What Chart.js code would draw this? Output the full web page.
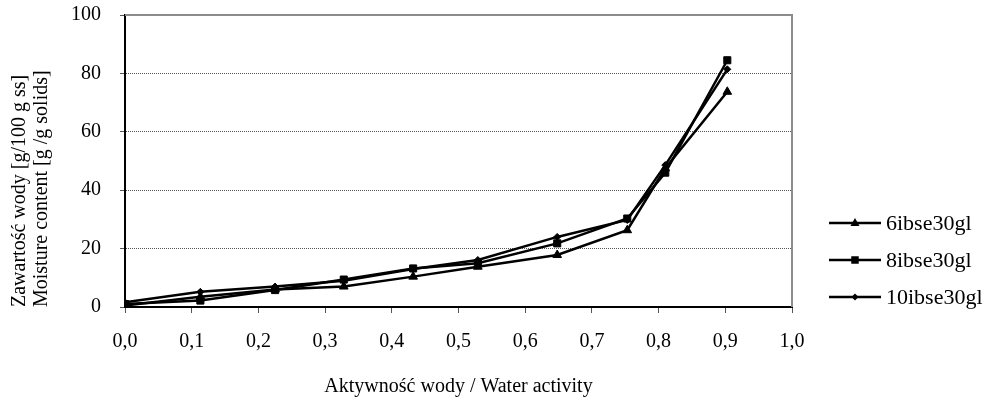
<!DOCTYPE html>
<html>
<head>
	<meta charset="UTF-8">
	<title>izotermy sorpcji</title>
	<script src="https://cdn.jsdelivr.net/npm/chart.js"></script>
	<style>
	body{margin:0; background:#fff;}
	#box{width:984px; height:406px;}
	</style>
</head>
<body>
	<div id="box">
	  <canvas id="myChart"></canvas>
	</div>
	<script>
	// aktywnosc wody (os x)
	var aw = [0.0, 0.113, 0.225, 0.328, 0.432, 0.529, 0.648, 0.753, 0.810, 0.903];
	// zawartosc wody [g/100 g ss]
	var s6ibse = [0.5, 3.5, 6.0, 7.0, 10.4, 13.8, 17.8, 26.3, 47.5, 73.7];
	var s8ibse = [1.0, 2.2, 5.8, 9.4, 13.2, 15.0, 21.8, 30.3, 46.0, 84.5];
	var s10ibse = [1.6, 5.2, 7.0, 9.0, 13.0, 16.1, 24.0, 29.8, 48.6, 81.4];
	var seriesNames = ['6ibse30gl', '8ibse30gl', '10ibse30gl'];
	var yTitle = ['Zawartość wody [g/100 g ss]', 'Moisture content [g /g solids]'];
	var xTitle = 'Aktywność wody / Water activity';

	var FONT = "'Liberation Serif', 'Times New Roman', serif";

	function pts(arr){
		return aw.map(function(x, i){ return {x: x, y: arr[i]}; });
	}

	function marker(ctx, style, x, y, r){
		ctx.beginPath();
		if(style == 'triangle'){
			ctx.moveTo(x, y - r);
			ctx.lineTo(x + r*0.9, y + r*0.6);
			ctx.lineTo(x - r*0.9, y + r*0.6);
		} else if(style == 'rect'){
			ctx.rect(x - r*0.75, y - r*0.75, r*1.5, r*1.5);
		} else {
			ctx.moveTo(x, y - r); ctx.lineTo(x + r, y); ctx.lineTo(x, y + r); ctx.lineTo(x - r, y);
		}
		ctx.closePath();
		ctx.fill();
	}

	// ramka (gora/prawo szare) + legenda po prawej
	var framePlugin = {
		id: 'frameLegend',
		afterDraw: function(chart){
			var ctx = chart.ctx, a = chart.chartArea;
			ctx.save();
			ctx.strokeStyle = '#8c8c8c';
			ctx.lineWidth = 2;
			ctx.beginPath();
			ctx.moveTo(a.left, a.top);
			ctx.lineTo(a.right, a.top);
			ctx.lineTo(a.right, a.bottom);
			ctx.stroke();

			var rows = [223, 260, 297];
			ctx.font = '22px ' + FONT;
			ctx.textBaseline = 'middle';
			ctx.textAlign = 'left';
			chart.data.datasets.forEach(function(ds, i){
				var y = rows[i];
				ctx.strokeStyle = '#000';
				ctx.fillStyle = '#000';
				ctx.lineWidth = 2.5;
				ctx.beginPath();
				ctx.moveTo(829, y);
				ctx.lineTo(881, y);
				ctx.stroke();
				marker(ctx, ds.pointStyle, 855, y, ds.pointRadius);
				ctx.fillText(ds.label, 886, y + 1);
			});
			ctx.restore();
		}
	};

	var ctx = document.getElementById('myChart');
	new Chart(ctx, {
		type: 'line',
		data: {
			datasets: [{
				label: seriesNames[0],
				data: pts(s6ibse),
				pointStyle: 'triangle',
				pointRadius: 5
			}, {
				label: seriesNames[1],
				data: pts(s8ibse),
				pointStyle: 'rect',
				pointRadius: 5
			}, {
				label: seriesNames[2],
				data: pts(s10ibse),
				pointStyle: 'rectRot',
				pointRadius: 3.5
			}].map(function(d){
				d.borderColor = '#000';
				d.backgroundColor = '#000';
				d.pointBackgroundColor = '#000';
				d.pointBorderColor = '#000';
				d.borderWidth = 2.5;
				d.pointBorderWidth = 1;
				d.tension = 0;
				return d;
			})
		},
		options: {
			responsive: true,
			maintainAspectRatio: false,
			animation: false,
			events: [],
			layout: {padding: {top: 15, right: 192, left: 0, bottom: 0}},
			plugins: {legend: {display: false}, tooltip: {enabled: false}},
			scales: {
				x: {
					type: 'linear',
					min: 0, max: 1,
					afterFit: function(s){ s.height = 99; },
					ticks: {
						stepSize: 0.1,
						color: '#000',
						padding: 17,
						maxRotation: 0,
						font: {family: FONT, size: 20},
						callback: function(v){ return v.toFixed(1).replace('.', ','); }
					},
					grid: {drawOnChartArea: false, drawTicks: true, tickLength: 6, tickColor: '#555', tickWidth: 1},
					border: {color: '#000', width: 2},
					title: {
						display: true,
						text: xTitle,
						color: '#000',
						font: {family: FONT, size: 20},
						padding: {top: 4, bottom: 7}
					}
				},
				y: {
					min: 0, max: 100,
					afterFit: function(s){
						s.width = 125;
						s.paddingTop = 0;   // bez tego etykieta "100" odsuwa obszar wykresu w dol
						s.paddingBottom = 0;
					},
					ticks: {
						stepSize: 20,
						color: '#000',
						padding: 19,
						font: {family: FONT, size: 20}
					},
					grid: {
						color: function(c){
							return (c.tick && (c.tick.value == 0 || c.tick.value == 100)) ? 'rgba(0,0,0,0)' : '#555';
						},
						lineWidth: 1,
						tickLength: 5,
						tickColor: '#555',
						tickWidth: 1
					},
					border: {color: '#000', width: 2, dash: [1, 1]},
					title: {
						display: true,
						text: yTitle,
						align: 'start',
						color: '#000',
						font: {family: FONT, size: 20, lineHeight: 1.1},
						padding: {top: 9, bottom: 0}
					}
				}
			}
		},
		plugins: [framePlugin]
	});
	</script>
</body>
</html>
